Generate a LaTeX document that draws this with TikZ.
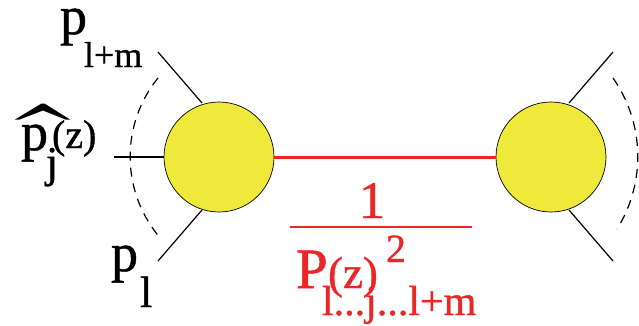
\documentclass[tikz,border=0pt]{standalone}
\usepackage{fontspec}
\setmainfont{Liberation Serif}
\newfontfamily\tms[FakeBold=0.9]{Liberation Serif}
\definecolor{ball}{RGB}{238,233,58}
\definecolor{prop}{RGB}{236,38,38}
\newcommand{\fsz}[1]{\tms\fontsize{#1}{#1}\selectfont}
\begin{document}
\begin{tikzpicture}[x=1pt,y=-1pt,
  blob/.style={circle,draw=black,line width=0.7pt,fill=ball,minimum size=110pt,inner sep=0pt},
  leg/.style={line width=1.2pt,black},
  cut/.style={line width=1.2pt,black,dash pattern=on 9pt off 7pt},
  lbl/.style={anchor=base west,inner sep=0pt,outer sep=0pt},
  rlbl/.style={lbl,text=prop}]
\useasboundingbox (0,0) rectangle (639,325);
% blobs
\node[blob] (L) at (219,157) {};
\node[blob] (R) at (551,157) {};
% propagator
\draw[prop,line width=3pt] (L.east) -- (R.west);
% left legs
\coordinate (a1) at (158,52);  \coordinate (a2) at (202,103);
\coordinate (b1) at (114,157); \coordinate (b2) at (L.west);
\coordinate (c1) at (158,261); \coordinate (c2) at (202,210);
\draw[leg] (a1) -- (a2);
\draw[leg] (b1) -- (b2);
\draw[leg] (c1) -- (c2);
\draw[cut] (158,78) arc[start angle=141,end angle=219,radius=125pt];
% right legs
\coordinate (d1) at (613,52);  \coordinate (d2) at (569,103);
\coordinate (e1) at (613,261); \coordinate (e2) at (569,210);
\draw[leg] (d1) -- (d2);
\draw[leg] (e1) -- (e2);
\draw[cut] (613,78) arc[start angle=35,end angle=-32,radius=137pt];
% left labels
\node[lbl,font=\fsz{54}] (p1) at (60,34) {p};
\node[lbl,font=\fsz{36}] (s1) at (84,67) {l+m};
\node[lbl,font=\fsz{54}] (p2) at (21,150) {p};
\node[lbl,font=\fsz{44}] (s2) at (46,177) {j};
\node[lbl,font=\fsz{40}] (z2) at (52,148) {(z)};
\fill (15,119.5) -- (41.5,103.5) -- (44.5,103.5) -- (70,119.5) -- (65.5,119.5) -- (43,110.5) -- (19.5,119.5) -- cycle;
\node[lbl,font=\fsz{54}] (p3) at (111,271) {p};
\node[lbl,font=\fsz{44}] (s3) at (140,307) {l};
% fraction
\node[anchor=base,inner sep=0pt,text=prop,font=\fsz{53}] (one) at (372,218) {1};
\draw[prop,line width=1.8pt] (290,227) -- (472,227);
\node[rlbl,font=\fsz{57}] (P) at (296,288) {P};
\node[rlbl,font=\fsz{45}] (Pz) at (328,288) {(z)};
\node[rlbl,font=\fsz{40}] (sq) at (386,262) {2};
\node[rlbl,font=\fsz{42}] (idx) at (322,315) {l...j...l+m};
\end{tikzpicture}
\end{document}
